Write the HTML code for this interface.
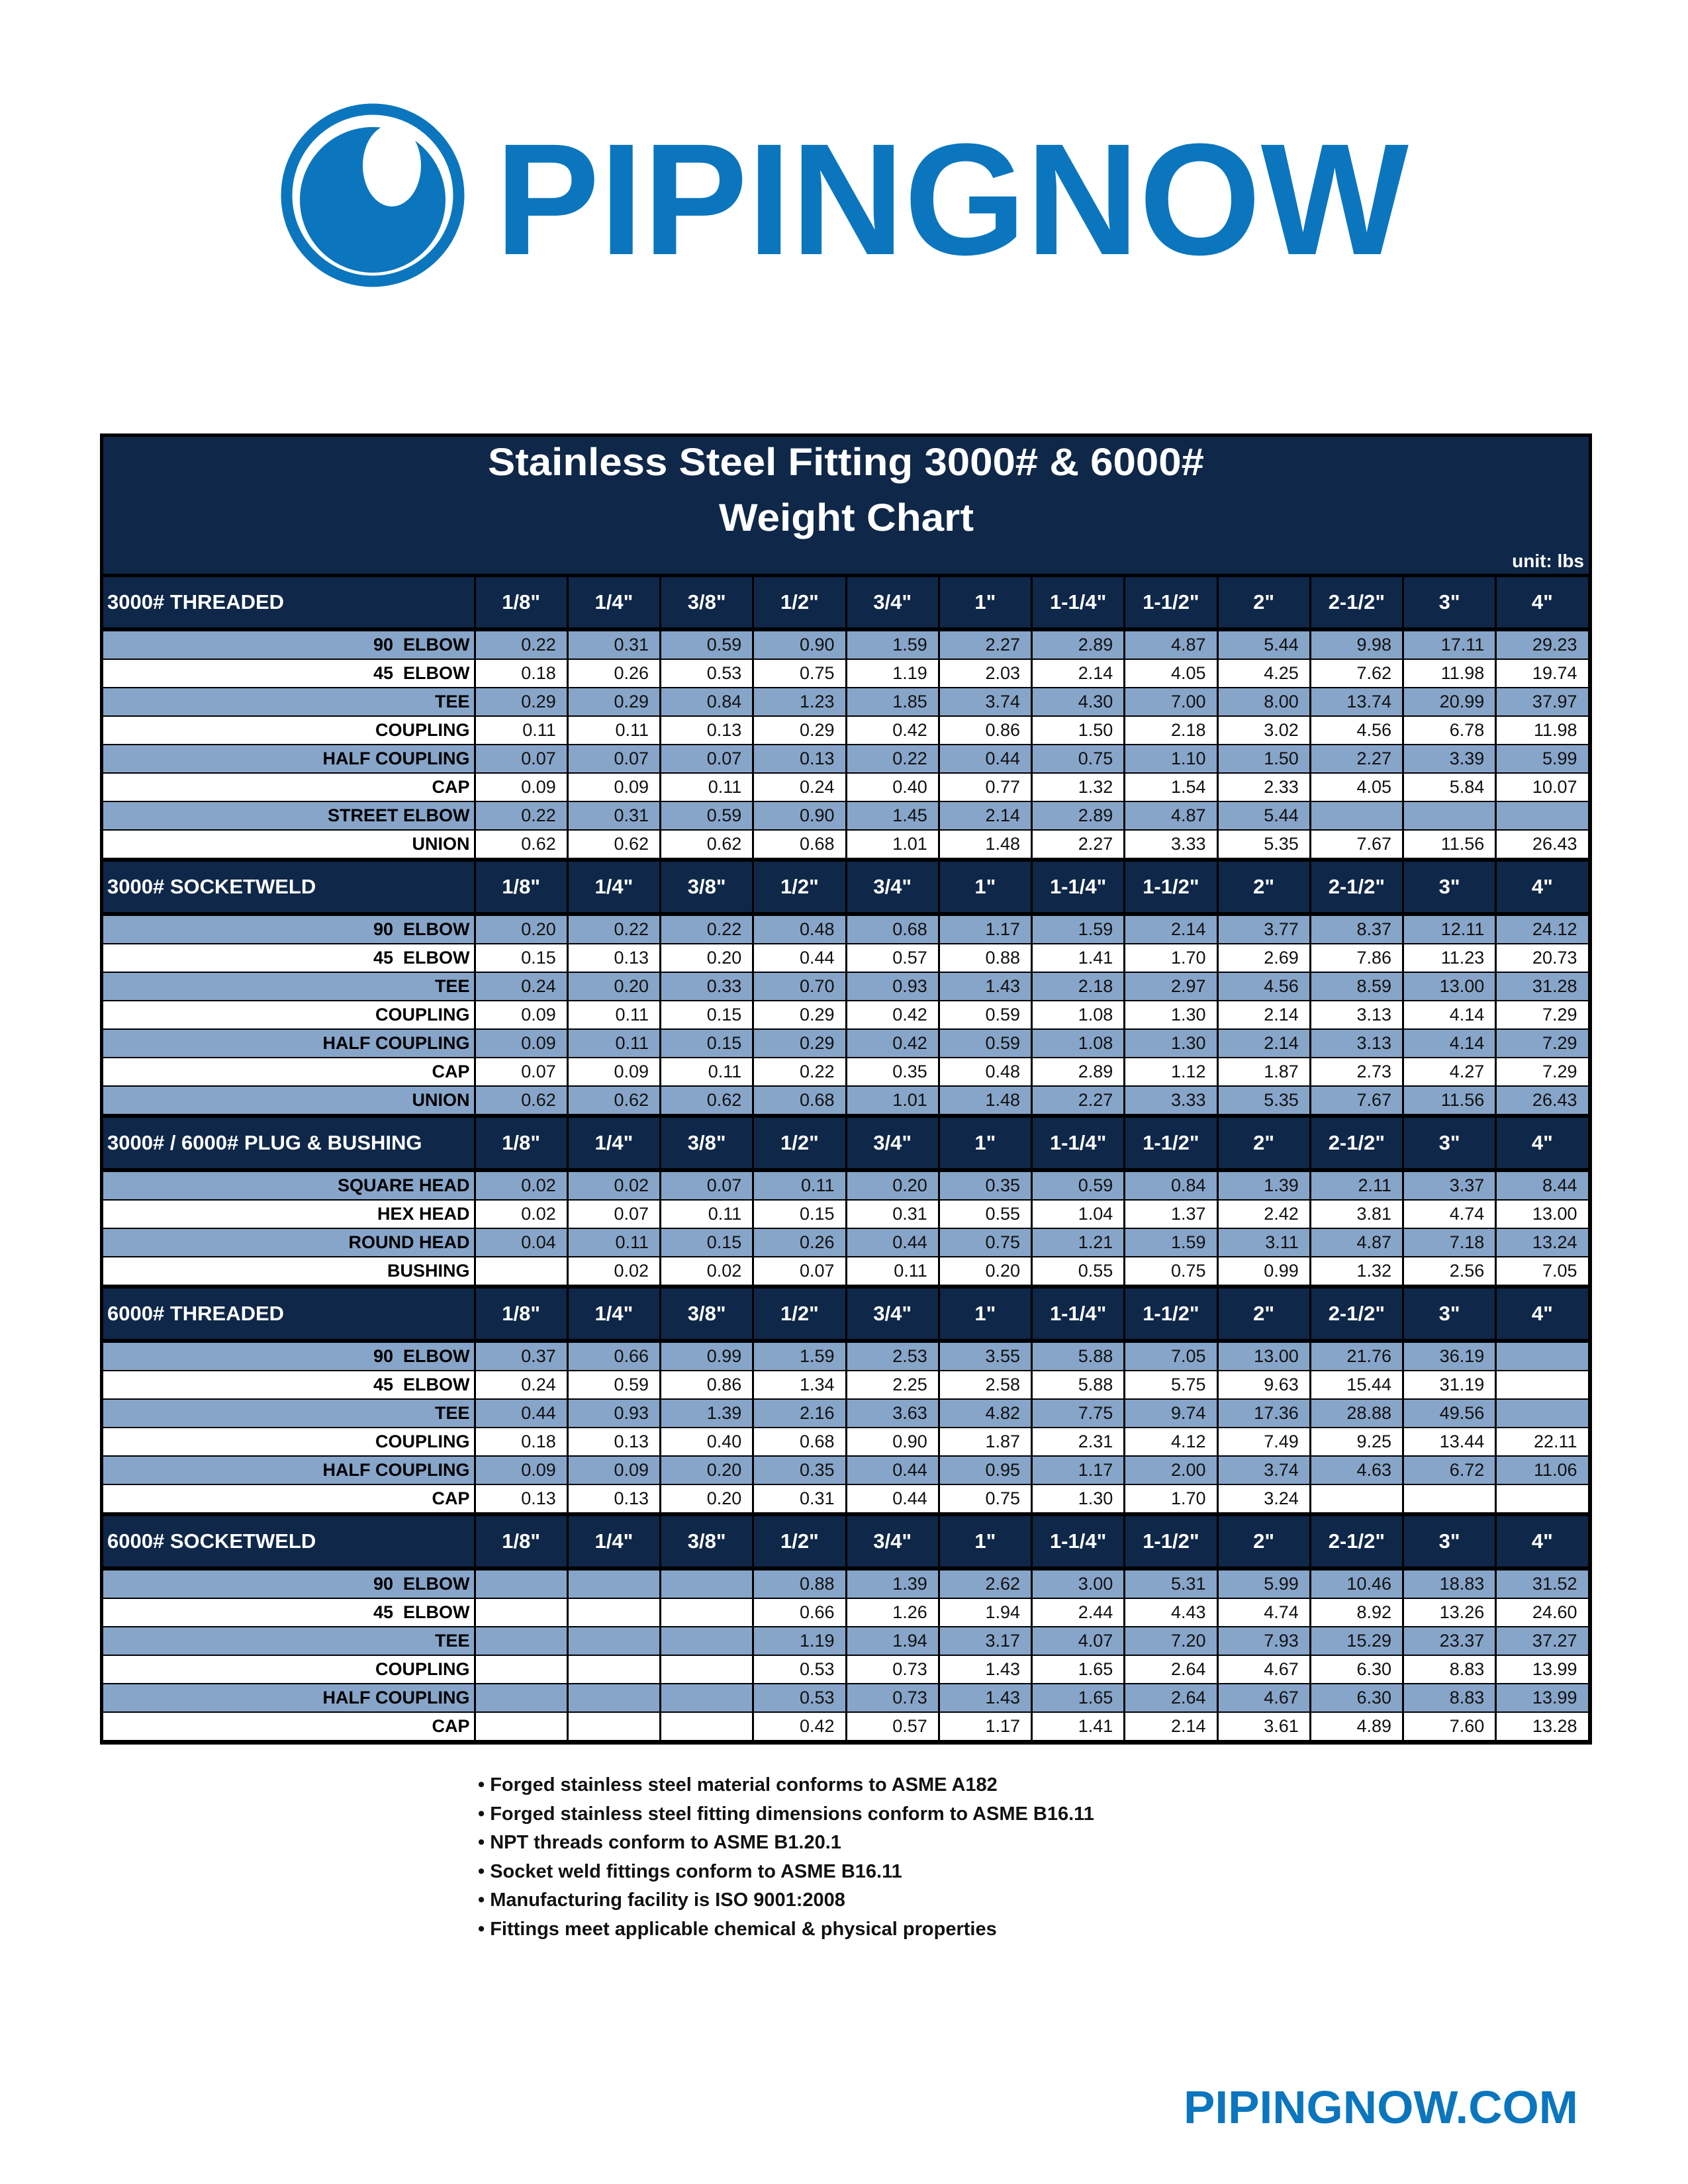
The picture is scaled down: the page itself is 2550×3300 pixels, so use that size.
<!DOCTYPE html>
<html>
<head>
<meta charset="utf-8">
<style>
html,body{margin:0;padding:0;background:#fff;}
body{width:2550px;height:3300px;position:relative;overflow:hidden;font-family:"Liberation Sans",sans-serif;}
.abs{position:absolute;box-sizing:border-box;}
.cell{position:absolute;box-sizing:border-box;display:flex;align-items:center;white-space:pre;}
.num{justify-content:flex-end;padding-right:16px;font-size:27px;color:#111;}
.lbl{justify-content:flex-end;padding-right:6px;font-size:27px;font-weight:bold;color:#000;}
.hd{justify-content:center;font-size:31px;font-weight:bold;color:#fff;background:#0f2748;}
.sec{justify-content:flex-start;padding-left:6px;font-size:31px;font-weight:bold;color:#fff;background:#0f2748;}
.bullets{position:absolute;left:722px;top:2676px;font-size:29px;font-weight:bold;color:#111;line-height:43.6px;}
</style>
</head>
<body>
<svg class="abs" style="left:0;top:0" width="2550" height="470">
  <circle cx="563" cy="295" r="130" fill="none" stroke="#0b76be" stroke-width="17"/>
  <circle cx="563" cy="302" r="110" fill="#0b76be"/>
  <ellipse cx="592" cy="250" rx="44" ry="62" fill="#fff"/>
  <text x="748" y="384" font-family="Liberation Sans" font-weight="bold" font-size="240" fill="#0b76be" textLength="1380" lengthAdjust="spacingAndGlyphs">PIPINGNOW</text>
</svg>

<div id="table" class="abs" style="left:151px;top:655px;width:2254px;height:1981px;background:#000;"></div>

<div class="bullets">
<div>• Forged stainless steel material conforms to ASME A182</div>
<div>• Forged stainless steel fitting dimensions conform to ASME B16.11</div>
<div>• NPT threads conform to ASME B1.20.1</div>
<div>• Socket weld fittings conform to ASME B16.11</div>
<div>• Manufacturing facility is ISO 9001:2008</div>
<div>• Fittings meet applicable chemical &amp; physical properties</div>
</div>

<svg class="abs" style="left:0;top:3100px" width="2550" height="150">
  <text x="1788" y="108" font-family="Liberation Sans" font-weight="bold" font-size="70" fill="#0b76be" textLength="596" lengthAdjust="spacingAndGlyphs">PIPINGNOW.COM</text>
</svg>

<script>
var sizes = ['1/8"','1/4"','3/8"','1/2"','3/4"','1"','1-1/4"','1-1/2"','2"','2-1/2"','3"','4"'];
var sectionNames = ['3000# THREADED','3000# SOCKETWELD','3000# / 6000# PLUG & BUSHING','6000# THREADED','6000# SOCKETWELD'];
var labels3000T = ['90  ELBOW','45  ELBOW','TEE','COUPLING','HALF COUPLING','CAP','STREET ELBOW','UNION'];
var values3000T = [
[0.22,0.31,0.59,0.90,1.59,2.27,2.89,4.87,5.44,9.98,17.11,29.23],
[0.18,0.26,0.53,0.75,1.19,2.03,2.14,4.05,4.25,7.62,11.98,19.74],
[0.29,0.29,0.84,1.23,1.85,3.74,4.30,7.00,8.00,13.74,20.99,37.97],
[0.11,0.11,0.13,0.29,0.42,0.86,1.50,2.18,3.02,4.56,6.78,11.98],
[0.07,0.07,0.07,0.13,0.22,0.44,0.75,1.10,1.50,2.27,3.39,5.99],
[0.09,0.09,0.11,0.24,0.40,0.77,1.32,1.54,2.33,4.05,5.84,10.07],
[0.22,0.31,0.59,0.90,1.45,2.14,2.89,4.87,5.44,null,null,null],
[0.62,0.62,0.62,0.68,1.01,1.48,2.27,3.33,5.35,7.67,11.56,26.43]];
var labels3000S = ['90  ELBOW','45  ELBOW','TEE','COUPLING','HALF COUPLING','CAP','UNION'];
var values3000S = [
[0.20,0.22,0.22,0.48,0.68,1.17,1.59,2.14,3.77,8.37,12.11,24.12],
[0.15,0.13,0.20,0.44,0.57,0.88,1.41,1.70,2.69,7.86,11.23,20.73],
[0.24,0.20,0.33,0.70,0.93,1.43,2.18,2.97,4.56,8.59,13.00,31.28],
[0.09,0.11,0.15,0.29,0.42,0.59,1.08,1.30,2.14,3.13,4.14,7.29],
[0.09,0.11,0.15,0.29,0.42,0.59,1.08,1.30,2.14,3.13,4.14,7.29],
[0.07,0.09,0.11,0.22,0.35,0.48,2.89,1.12,1.87,2.73,4.27,7.29],
[0.62,0.62,0.62,0.68,1.01,1.48,2.27,3.33,5.35,7.67,11.56,26.43]];
var labelsPlug = ['SQUARE HEAD','HEX HEAD','ROUND HEAD','BUSHING'];
var valuesPlug = [
[0.02,0.02,0.07,0.11,0.20,0.35,0.59,0.84,1.39,2.11,3.37,8.44],
[0.02,0.07,0.11,0.15,0.31,0.55,1.04,1.37,2.42,3.81,4.74,13.00],
[0.04,0.11,0.15,0.26,0.44,0.75,1.21,1.59,3.11,4.87,7.18,13.24],
[null,0.02,0.02,0.07,0.11,0.20,0.55,0.75,0.99,1.32,2.56,7.05]];
var labels6000T = ['90  ELBOW','45  ELBOW','TEE','COUPLING','HALF COUPLING','CAP'];
var values6000T = [
[0.37,0.66,0.99,1.59,2.53,3.55,5.88,7.05,13.00,21.76,36.19,null],
[0.24,0.59,0.86,1.34,2.25,2.58,5.88,5.75,9.63,15.44,31.19,null],
[0.44,0.93,1.39,2.16,3.63,4.82,7.75,9.74,17.36,28.88,49.56,null],
[0.18,0.13,0.40,0.68,0.90,1.87,2.31,4.12,7.49,9.25,13.44,22.11],
[0.09,0.09,0.20,0.35,0.44,0.95,1.17,2.00,3.74,4.63,6.72,11.06],
[0.13,0.13,0.20,0.31,0.44,0.75,1.30,1.70,3.24,null,null,null]];
var labels6000S = ['90  ELBOW','45  ELBOW','TEE','COUPLING','HALF COUPLING','CAP'];
var values6000S = [
[null,null,null,0.88,1.39,2.62,3.00,5.31,5.99,10.46,18.83,31.52],
[null,null,null,0.66,1.26,1.94,2.44,4.43,4.74,8.92,13.26,24.60],
[null,null,null,1.19,1.94,3.17,4.07,7.20,7.93,15.29,23.37,37.27],
[null,null,null,0.53,0.73,1.43,1.65,2.64,4.67,6.30,8.83,13.99],
[null,null,null,0.53,0.73,1.43,1.65,2.64,4.67,6.30,8.83,13.99],
[null,null,null,0.42,0.57,1.17,1.41,2.14,3.61,4.89,7.60,13.28]];

var sections = [
 {name:sectionNames[0], labels:labels3000T, values:values3000T},
 {name:sectionNames[1], labels:labels3000S, values:values3000S},
 {name:sectionNames[2], labels:labelsPlug, values:valuesPlug},
 {name:sectionNames[3], labels:labels6000T, values:values6000T},
 {name:sectionNames[4], labels:labels6000S, values:values6000S}];

var T = document.getElementById('table');
var OX = 151, OY = 655;
var innerL = 156, labelR = 717, innerR = 2400, colW = (innerR - labelR) / 12;
function colX(i){ return labelR + i * colW; }
function mk(cls, x, y, w, h, txt, bg){
  var d = document.createElement('div');
  d.className = 'cell ' + cls;
  d.style.left = (x - OX) + 'px'; d.style.top = (y - OY) + 'px';
  d.style.width = w + 'px'; d.style.height = h + 'px';
  if (bg) d.style.background = bg;
  if (txt !== null && txt !== undefined) d.textContent = txt;
  T.appendChild(d);
  return d;
}
var title = document.createElementNS('http://www.w3.org/2000/svg','svg');


title.setAttribute('width', innerR - innerL); title.setAttribute('height', 867 - 660);
title.style.position = 'absolute'; title.style.left = (innerL - OX) + 'px'; title.style.top = (660 - OY) + 'px';
title.innerHTML = '<rect width="100%" height="100%" fill="#0f2748"/>' +
 '<text x="' + (737 - innerL) + '" y="' + (718 - 660) + '" font-family="Liberation Sans" font-weight="bold" font-size="58" fill="#fff" textLength="1082" lengthAdjust="spacingAndGlyphs">Stainless Steel Fitting 3000# &amp; 6000#</text>' +
 '<text x="' + (1086 - innerL) + '" y="' + (802 - 660) + '" font-family="Liberation Sans" font-weight="bold" font-size="58" fill="#fff" textLength="385" lengthAdjust="spacingAndGlyphs">Weight Chart</text>' +
 '<text x="' + (2393 - innerL) + '" y="' + (857 - 660) + '" text-anchor="end" font-family="Liberation Sans" font-weight="bold" font-size="28" fill="#fff">unit: lbs</text>';
T.appendChild(title);

var H = 86, R = 43;
var y = 867;
sections.forEach(function(s, si){
  var hy = y + 5, hh = H - 10;
  var sc = mk('sec', innerL, hy, labelR - innerL - 1.5, hh, s.name);
  
  
  for (var c = 0; c < 12; c++) {
    var hc = mk('hd', colX(c) + 1.5, hy, colW - 3, hh, sizes[c]);
    
    
  }
  y += H;
  s.labels.forEach(function(lab, ri){
    var bg = (ri % 2 === 0) ? '#87a5c9' : '#ffffff';
    var ry = y + ri * R + 1, rh = R - 2;
    var lc = mk('lbl', innerL, ry, labelR - innerL - 1.5, rh, lab, bg);
    
    
    for (var c = 0; c < 12; c++) {
      var v = s.values[ri][c];
      var nc = mk('num', colX(c) + 1.5, ry, colW - 3, rh, v === null ? '' : v.toFixed(2), bg);
      
      
    }
  });
  y += s.labels.length * R;
});
</script>
</body>
</html>
